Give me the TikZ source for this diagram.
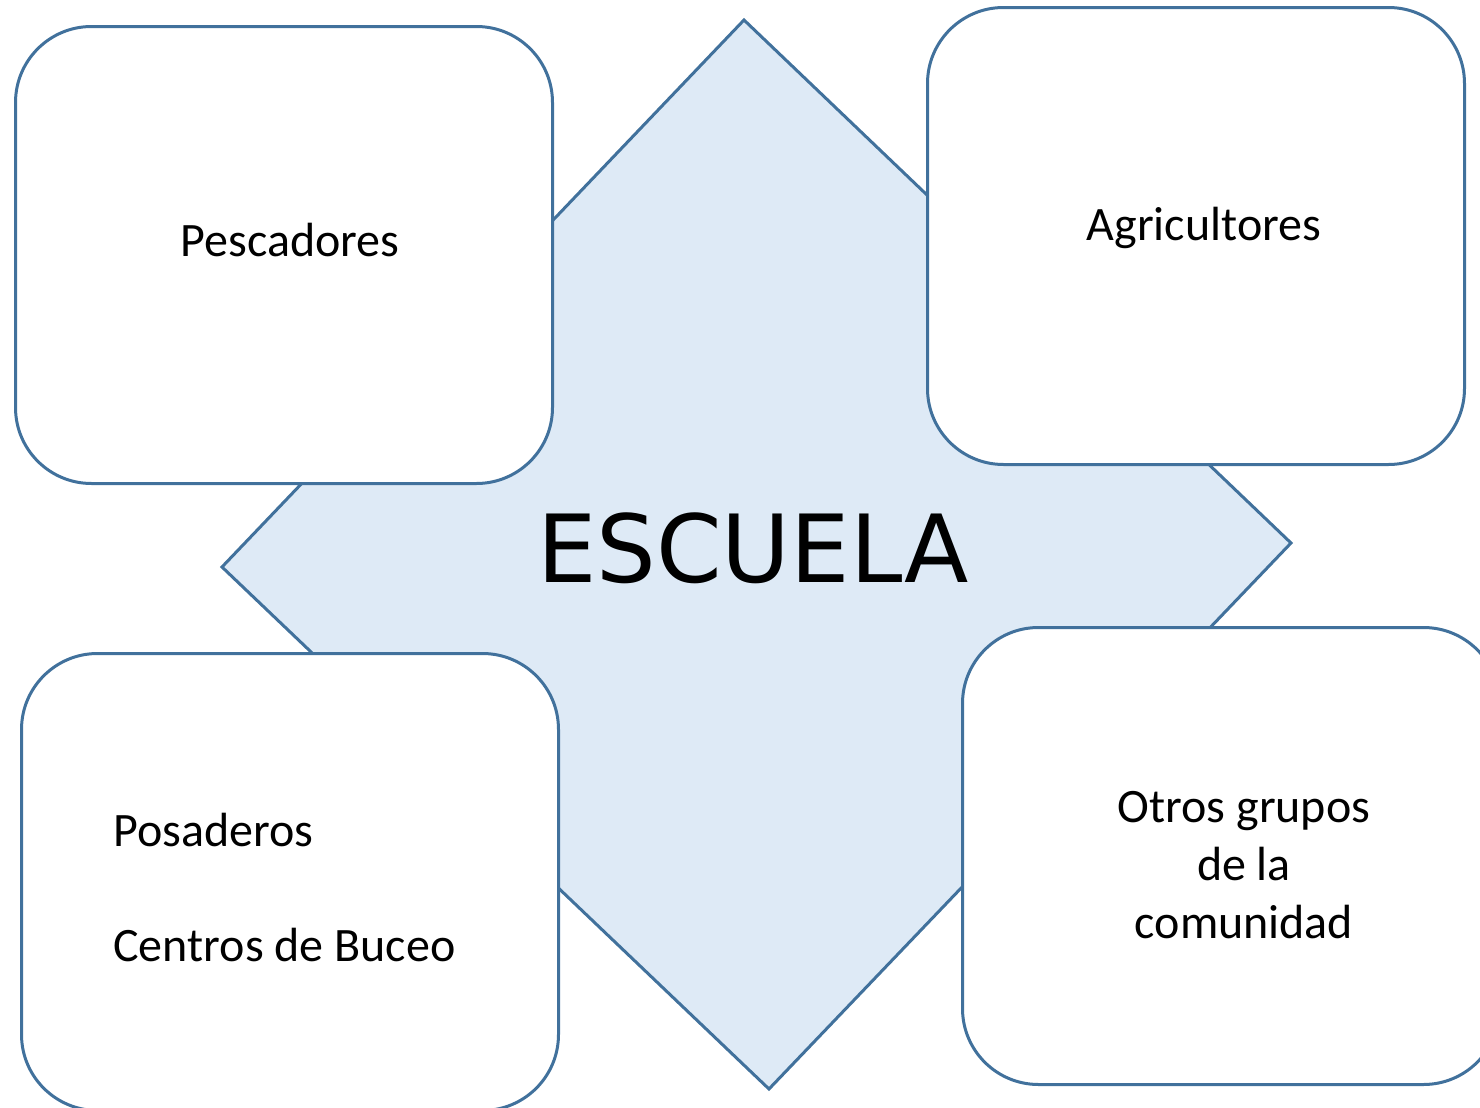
\documentclass[tikz,border=0pt]{standalone}
\usepackage{fontspec}
\setmainfont{Carlito}
\newfontfamily\escfont{DejaVu Sans}
\definecolor{edge}{HTML}{41719C}
\definecolor{paleblue}{HTML}{DEEAF6}
\begin{document}
\begin{tikzpicture}[x=0.5pt,y=-0.5pt,
  card/.style={draw=edge,line width=1.5pt,fill=white,rounded corners=38pt,
    minimum width=268.5pt,minimum height=228.5pt,inner sep=0pt,anchor=north west},
  lbl/.style={font=\fontsize{24}{29}\selectfont,inner sep=0pt,anchor=base,text=black}]
\useasboundingbox (0,0) rectangle (1480,1108);
\clip (0,0) rectangle (1480,1108);
% central diamond
\coordinate (dt) at (744,20);
\coordinate (dr) at (1291,543);
\coordinate (db) at (769,1089);
\coordinate (dl) at (222,567);
\draw[draw=edge,line width=1.5pt,fill=paleblue,line join=miter] (dt) -- (dr) -- (db) -- (dl) -- cycle;
% cards
\node[card] (pesc) at (14,25) {};
\node[card] (agri) at (926,6) {};
\node[card] (posa) at (20,652) {};
\node[card] (otro) at (961,626) {};
% labels
\node[lbl] (tpesc) at (290,256) {Pescadores};
\node[lbl] (tagri) at (1204,240) {Agricultores};
\node[lbl,anchor=base west] (tposa) at (113,846) {Posaderos};
\node[lbl,anchor=base west] (tbuceo) at (113,961) {Centros de Buceo};
\node[lbl,align=center] (totro) at (1244,938) {Otros grupos\\de la\\comunidad};
\node[font=\escfont\fontsize{47}{56}\selectfont,inner sep=0pt,anchor=base] (esc) at (753,582) {ESCUELA};
\end{tikzpicture}
\end{document}
